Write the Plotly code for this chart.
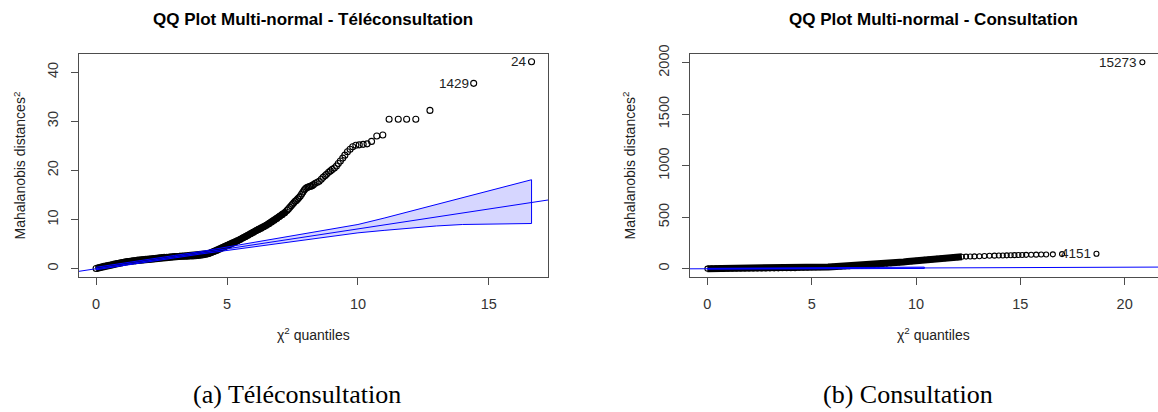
import plotly.graph_objects as go

# ---------------- Data: left panel (Téléconsultation) ----------------
tele_dense_x = [0.0, 0.1, 0.2, 0.3, 0.4, 0.5, 0.6, 0.7, 0.8, 0.9,
                1.0, 1.1, 1.2, 1.3, 1.4, 1.5, 1.6, 1.7, 1.8, 1.9,
                2.0, 2.1, 2.2, 2.3, 2.4, 2.5, 2.6, 2.7, 2.8, 2.9,
                3.0, 3.1, 3.2, 3.3, 3.4, 3.5, 3.6, 3.7, 3.8, 3.9,
                4.0, 4.1, 4.2, 4.3, 4.4, 4.5, 4.6, 4.7, 4.8, 4.9,
                5.0, 5.1, 5.2, 5.3, 5.4, 5.5, 5.6, 5.7, 5.8, 5.9,
                6.0, 6.1, 6.2, 6.3, 6.4, 6.5, 6.6, 6.7, 6.8, 6.9,
                7.0, 7.1, 7.2, 7.3]
tele_dense_y = [0.05, 0.2, 0.35, 0.5, 0.6, 0.7, 0.8, 0.95, 1.05, 1.15,
                1.25, 1.35, 1.45, 1.5, 1.6, 1.65, 1.75, 1.8, 1.85, 1.9,
                1.95, 2.0, 2.05, 2.1, 2.2, 2.25, 2.3, 2.35, 2.4, 2.45,
                2.5, 2.5, 2.55, 2.55, 2.55, 2.55, 2.6, 2.6, 2.65, 2.7,
                2.75, 2.85, 2.95, 3.1, 3.3, 3.5, 3.7, 3.95, 4.2, 4.45,
                4.7, 4.95, 5.2, 5.45, 5.7, 5.95, 6.25, 6.5, 6.8, 7.1,
                7.4, 7.7, 8.0, 8.25, 8.55, 8.85, 9.15, 9.5, 9.85, 10.2,
                10.6, 11.0, 11.4, 11.9]
tele_sparse_x = [7.35, 7.4, 7.45, 7.5, 7.55, 7.6, 7.65, 7.7, 7.75, 7.8,
                 7.85, 7.9, 7.95, 8.0, 8.05, 8.1, 8.15, 8.2, 8.25, 8.3,
                 8.37, 8.45, 8.52, 8.6, 8.67, 8.74, 8.8, 8.88, 8.95, 9.02,
                 9.1, 9.18, 9.25, 9.33, 9.42, 9.5, 9.6, 9.7, 9.8, 9.92,
                 10.05, 10.2, 10.35, 10.52, 10.72, 10.95, 11.19, 11.54, 11.86, 12.21,
                 12.75, 14.42, 16.63]
tele_sparse_y = [12.2, 12.5, 12.8, 13.1, 13.4, 13.7, 13.9, 14.2, 14.5, 14.8,
                 15.2, 15.6, 16.0, 16.3, 16.5, 16.6, 16.7, 16.8, 16.9, 17.1,
                 17.4, 17.6, 17.8, 18.2, 18.6, 18.9, 19.2, 19.6, 19.9, 20.2,
                 20.5, 20.9, 21.4, 21.9, 22.5, 23.1, 23.8, 24.3, 24.8, 25.1,
                 25.2, 25.3, 25.4, 25.9, 27.0, 27.2, 30.4, 30.4, 30.4, 30.4,
                 32.2, 37.7, 42.1]
tele_env_x = [0, 1, 2, 3, 4, 5, 6, 7, 8, 9, 10, 11, 12, 13, 14, 15, 16, 16.63]
tele_env_upper = [0.3, 1.05, 1.85, 2.7, 3.5, 4.4, 5.3, 6.2, 7.1, 8.0, 9.0, 10.3, 11.7, 13.1, 14.5, 15.9, 17.3, 18.1]
tele_env_lower = [-0.2, 0.6, 1.4, 2.2, 3.0, 3.7, 4.4, 5.1, 5.8, 6.6, 7.3, 7.8, 8.3, 8.7, 9.0, 9.1, 9.15, 9.2]
tele_line_slope = 0.81
tele_line_intercept = 0.0
tele_labels = ["24", "1429"]
tele_label_x = [16.63, 14.42]
tele_label_y = [42.1, 37.7]
tele_xticks = [0, 5, 10, 15]
tele_yticks = [0, 10, 20, 30, 40]
tele_xrange = [-0.664, 17.27]
tele_yrange = [-1.68, 43.68]

# ---------------- Data: right panel (Consultation) ----------------
cons_dense_x = [0.0, 0.2, 0.4, 0.6, 0.8, 1.0, 1.2, 1.4, 1.6, 1.8,
                2.0, 2.2, 2.4, 2.6, 2.8, 3.0, 3.2, 3.4, 3.6, 3.8,
                4.0, 4.2, 4.4, 4.6, 4.8, 5.0, 5.2, 5.4, 5.6, 5.8,
                6.0, 6.2, 6.4, 6.6, 6.8, 7.0, 7.2, 7.4, 7.6, 7.8,
                8.0, 8.2, 8.4, 8.6, 8.8, 9.0, 9.2, 9.4, 9.6, 9.8,
                10.0, 10.2, 10.4, 10.6, 10.8, 11.0, 11.2, 11.4, 11.6, 11.8,
                12.0, 12.2]
cons_dense_y = [1, 1, 1, 1.5, 1.5, 2, 2, 2, 2.5, 2.5,
                3, 3, 3, 3.5, 3.5, 4, 4, 4, 4.5, 4.5,
                5, 5, 11, 12, 13, 14, 15, 16, 17, 18,
                20, 22, 23, 24, 25, 26, 28, 30, 32, 35,
                38, 42, 46, 50, 54, 58, 62, 66, 70, 74,
                78, 82, 86, 90, 93, 96, 99, 102, 105, 108,
                112, 116]
cons_sparse_x = [12.4, 12.6, 12.8, 13.04, 13.28, 13.52, 13.76, 13.97, 14.16, 14.35,
                 14.54, 14.72, 14.91, 15.09, 15.28, 15.52, 15.76, 16.0, 16.24, 16.56,
                 17.0, 18.65, 20.85]
cons_sparse_y = [118, 119, 120, 122, 124, 126, 127, 128, 129, 130,
                 131, 132, 133, 134, 135, 136, 137, 138, 139, 140,
                 142, 145, 2005]
cons_env_x = [0, 2, 4, 6, 8, 10.4]
cons_env_upper = [4, 6, 8, 10, 12, 16]
cons_env_lower = [-4, -3, -1, 0, 2, 3]
cons_line_slope = 0.75
cons_line_intercept = 0.0
cons_labels = ["15273", "4151"]
cons_label_x = [20.85, 18.65]
cons_label_y = [2005, 145]
cons_xticks = [0, 5, 10, 15, 20]
cons_yticks = [0, 500, 1000, 1500, 2000]
cons_xrange = [-0.834, 21.60]
cons_yrange = [-80, 2085]

titles = ["QQ Plot Multi-normal - Téléconsultation", "QQ Plot Multi-normal - Consultation"]
captions = ["(a) Téléconsultation", "(b) Consultation"]
x_title = "χ<sup>2</sup> quantiles"
y_title = "Mahalanobis distances<sup>2</sup>"

# ---------------- Figure ----------------
SANS = "Liberation Sans, Arial, sans-serif"
SERIF = "Liberation Serif, Times New Roman, serif"
BLUE = "#0000FF"
AXC = "#4d4d4d"

fig = go.Figure()


def add_panel(xa, ya, dx, dy, sx, sy, ex, eu, el, slope, icpt, xr, msize):
    # dense part: thick underlay + open circles
    fig.add_trace(go.Scatter(x=dx, y=dy, mode="lines", xaxis=xa, yaxis=ya,
                             line=dict(color="black", width=7), showlegend=False, hoverinfo="skip"))
    fig.add_trace(go.Scatter(x=dx + sx, y=dy + sy, mode="markers", xaxis=xa, yaxis=ya,
                             marker=dict(symbol="circle-open", size=msize, color="black",
                                         line=dict(width=1.1, color="black")),
                             showlegend=False))
    # envelope polygon
    fig.add_trace(go.Scatter(x=ex + ex[::-1], y=eu + el[::-1], mode="lines", fill="toself",
                             xaxis=xa, yaxis=ya, fillcolor="rgba(0,0,255,0.16)",
                             line=dict(color=BLUE, width=1), showlegend=False, hoverinfo="skip"))
    # reference line across the whole plotting region
    lx = [xr[0], xr[1]]
    ly = [icpt + slope * v for v in lx]
    fig.add_trace(go.Scatter(x=lx, y=ly, mode="lines", xaxis=xa, yaxis=ya,
                             line=dict(color=BLUE, width=1), showlegend=False, hoverinfo="skip"))


add_panel("x", "y", tele_dense_x, tele_dense_y, tele_sparse_x, tele_sparse_y,
          tele_env_x, tele_env_upper, tele_env_lower, tele_line_slope, tele_line_intercept,
          tele_xrange, 6)
add_panel("x2", "y2", cons_dense_x, cons_dense_y, cons_sparse_x, cons_sparse_y,
          cons_env_x, cons_env_upper, cons_env_lower, cons_line_slope, cons_line_intercept,
          cons_xrange, 5)

YD = [0.3350, 0.8884]
axis_common = dict(showgrid=False, zeroline=False, showline=True, linecolor=AXC, linewidth=1.3,
                   ticks="outside", ticklen=7, tickcolor=AXC, tickwidth=1.1,
                   tickfont=dict(family=SANS, size=14.5, color="#333333"))

fig.update_layout(
    width=1158, height=412, autosize=False,
    margin=dict(l=0, r=0, t=0, b=0),
    paper_bgcolor="white", plot_bgcolor="white",
    xaxis=dict(domain=[0.06796, 0.47349], range=tele_xrange, tickvals=tele_xticks,
               mirror=True, anchor="y", ticklabelstandoff=6, **axis_common),
    yaxis=dict(domain=YD, range=tele_yrange, tickvals=tele_yticks, tickangle=-90,
               mirror=True, anchor="x", ticklabelstandoff=7, **axis_common),
    xaxis2=dict(domain=[0.59585, 1.0], range=cons_xrange, tickvals=cons_xticks,
                mirror=True, anchor="y2", ticklabelstandoff=6, **axis_common),
    yaxis2=dict(domain=YD, range=cons_yrange, tickvals=cons_yticks, tickangle=-90,
                mirror=False, anchor="x2", ticklabelstandoff=7, **axis_common),
)

ann = []
# point labels (placed to the left of the points, like R's pos = 2)
for t, x, y in zip(tele_labels, tele_label_x, tele_label_y):
    ann.append(dict(text=t, x=x, y=y, xref="x", yref="y", xanchor="right", yanchor="middle",
                    xshift=-3, showarrow=False, font=dict(family=SANS, size=13.5, color="#222222")))
for t, x, y in zip(cons_labels, cons_label_x, cons_label_y):
    ann.append(dict(text=t, x=x, y=y, xref="x2", yref="y2", xanchor="right", yanchor="middle",
                    xshift=-3, showarrow=False, font=dict(family=SANS, size=13.5, color="#222222")))

centers = [(0.06796 + 0.47349) / 2, (0.59585 + 1.0159) / 2]
ytitle_x = [0.0173, 0.5440]
for i in range(2):
    ann.append(dict(text="<b>" + titles[i] + "</b>", x=centers[i], y=1 - 11 / 412, xref="paper", yref="paper",
                    xanchor="center", yanchor="middle", showarrow=False,
                    font=dict(family=SANS, size=17, color="black")))
    ann.append(dict(text=x_title, x=centers[i], y=1 - 332 / 412, xref="paper", yref="paper",
                    xanchor="center", yanchor="middle", showarrow=False,
                    font=dict(family=SANS, size=14, color="#222222")))
    ann.append(dict(text=y_title, x=ytitle_x[i], y=(YD[0] + YD[1]) / 2, xref="paper", yref="paper",
                    xanchor="center", yanchor="middle", textangle=-90, showarrow=False,
                    font=dict(family=SANS, size=14, color="#222222")))
caption_x = [297 / 1158, 908 / 1158]
for i in range(2):
    ann.append(dict(text=captions[i], x=caption_x[i], y=1 - 394 / 412, xref="paper", yref="paper",
                    xanchor="center", yanchor="middle", showarrow=False,
                    font=dict(family=SERIF, size=26, color="black")))

fig.update_layout(annotations=ann)

fig.write_html("out.html", config={"displayModeBar": False},
               post_script="document.body.style.margin='0';document.body.style.overflow='hidden';")
